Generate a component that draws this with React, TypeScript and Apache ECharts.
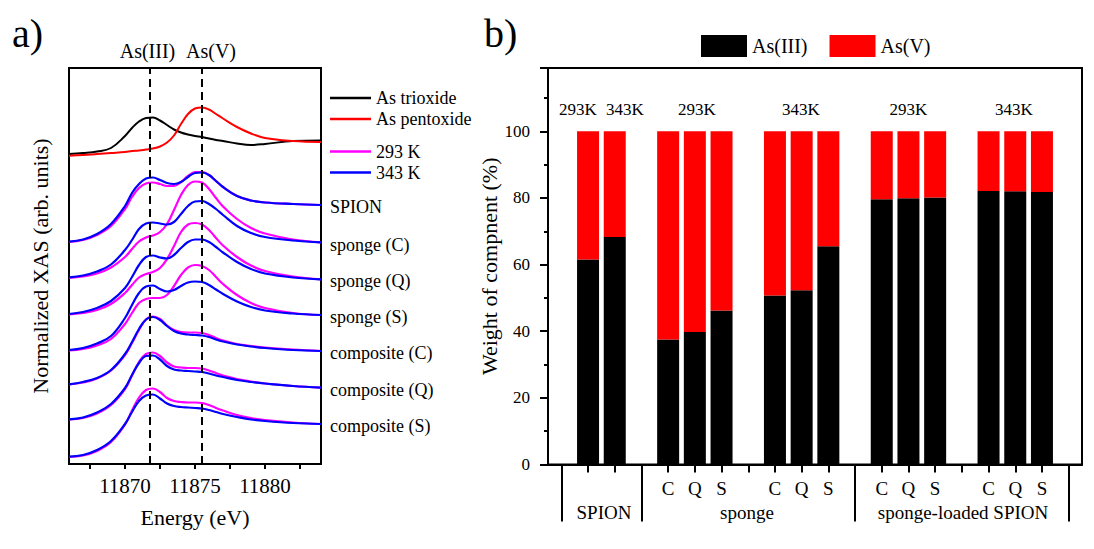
import React, { useEffect, useRef } from 'react';
import * as echarts from 'echarts';

// ---------- Panel a: XAS spectra ----------
const energy = [11866, 11867, 11868, 11869, 11870, 11870.5, 11871, 11871.5, 11872, 11872.5, 11873, 11873.5, 11874, 11874.5, 11875, 11875.5, 11876, 11876.5, 11877, 11878, 11879, 11880, 11882, 11884];

const asTrioxide = [3.10, 3.11, 3.125, 3.16, 3.28, 3.36, 3.425, 3.46, 3.465, 3.435, 3.39, 3.345, 3.315, 3.295, 3.28, 3.27, 3.255, 3.24, 3.23, 3.205, 3.19, 3.20, 3.23, 3.235];
const asPentoxide = [3.083, 3.09, 3.10, 3.11, 3.12, 3.13, 3.135, 3.145, 3.155, 3.175, 3.215, 3.285, 3.40, 3.50, 3.555, 3.565, 3.545, 3.50, 3.455, 3.37, 3.305, 3.26, 3.23, 3.22];

const spion293 = [2.22, 2.24, 2.29, 2.38, 2.55, 2.67, 2.76, 2.805, 2.815, 2.80, 2.78, 2.78, 2.82, 2.88, 2.92, 2.92, 2.89, 2.83, 2.77, 2.68, 2.635, 2.615, 2.60, 2.59];
const spion343 = [2.223, 2.245, 2.30, 2.40, 2.58, 2.71, 2.80, 2.855, 2.865, 2.84, 2.81, 2.80, 2.82, 2.87, 2.91, 2.915, 2.89, 2.83, 2.77, 2.68, 2.635, 2.615, 2.60, 2.59];
const spongeC293 = [1.86, 1.875, 1.905, 1.965, 2.07, 2.15, 2.225, 2.265, 2.285, 2.32, 2.40, 2.54, 2.69, 2.79, 2.825, 2.815, 2.75, 2.66, 2.575, 2.45, 2.36, 2.305, 2.245, 2.217];
const spongeC343 = [1.867, 1.885, 1.925, 1.995, 2.14, 2.24, 2.35, 2.405, 2.415, 2.405, 2.395, 2.42, 2.50, 2.58, 2.625, 2.63, 2.60, 2.55, 2.49, 2.38, 2.31, 2.27, 2.235, 2.217];
const spongeQ293 = [1.495, 1.51, 1.54, 1.60, 1.71, 1.79, 1.865, 1.90, 1.92, 1.96, 2.05, 2.18, 2.32, 2.395, 2.41, 2.395, 2.34, 2.26, 2.185, 2.07, 1.985, 1.93, 1.875, 1.847];
const spongeQ343 = [1.50, 1.52, 1.56, 1.63, 1.76, 1.87, 1.99, 2.07, 2.085, 2.065, 2.055, 2.09, 2.16, 2.22, 2.245, 2.245, 2.22, 2.17, 2.115, 2.02, 1.95, 1.905, 1.865, 1.847];
const spongeS293 = [1.135, 1.15, 1.185, 1.25, 1.40, 1.51, 1.61, 1.65, 1.66, 1.66, 1.69, 1.78, 1.89, 1.965, 1.99, 1.98, 1.94, 1.87, 1.80, 1.69, 1.61, 1.56, 1.51, 1.49];
const spongeS343 = [1.14, 1.16, 1.205, 1.28, 1.46, 1.59, 1.71, 1.775, 1.785, 1.75, 1.725, 1.74, 1.78, 1.815, 1.825, 1.82, 1.79, 1.745, 1.70, 1.625, 1.57, 1.535, 1.505, 1.49];
const compC293 = [0.795, 0.815, 0.855, 0.935, 1.09, 1.21, 1.34, 1.445, 1.475, 1.45, 1.385, 1.34, 1.32, 1.315, 1.315, 1.31, 1.29, 1.26, 1.235, 1.20, 1.18, 1.165, 1.145, 1.13];
const compC343 = [0.797, 0.82, 0.86, 0.94, 1.10, 1.22, 1.35, 1.445, 1.47, 1.44, 1.38, 1.33, 1.305, 1.295, 1.29, 1.285, 1.27, 1.245, 1.225, 1.195, 1.175, 1.16, 1.14, 1.13];
const compQ293 = [0.445, 0.46, 0.505, 0.59, 0.75, 0.885, 1.02, 1.10, 1.115, 1.08, 1.015, 0.975, 0.965, 0.96, 0.96, 0.955, 0.935, 0.91, 0.885, 0.85, 0.825, 0.805, 0.78, 0.763];
const compQ343 = [0.447, 0.465, 0.515, 0.60, 0.76, 0.89, 1.01, 1.08, 1.085, 1.045, 0.98, 0.945, 0.935, 0.93, 0.925, 0.92, 0.905, 0.885, 0.87, 0.84, 0.82, 0.805, 0.78, 0.763];
const compS293 = [0.07, 0.085, 0.13, 0.22, 0.395, 0.535, 0.665, 0.74, 0.755, 0.72, 0.66, 0.63, 0.62, 0.615, 0.615, 0.61, 0.59, 0.56, 0.535, 0.49, 0.46, 0.44, 0.415, 0.40];
const compS343 = [0.073, 0.09, 0.14, 0.23, 0.40, 0.52, 0.63, 0.685, 0.695, 0.655, 0.605, 0.58, 0.57, 0.565, 0.56, 0.555, 0.54, 0.52, 0.50, 0.47, 0.445, 0.43, 0.41, 0.40];

const sampleNames = ['SPION', 'sponge (C)', 'sponge (Q)', 'sponge (S)', 'composite (C)', 'composite (Q)', 'composite (S)'];
const samples293 = [spion293, spongeC293, spongeQ293, spongeS293, compC293, compQ293, compS293];
const samples343 = [spion343, spongeC343, spongeQ343, spongeS343, compC343, compQ343, compS343];
const refLines = [11871.74, 11875.48];
const refLineNames = ['As(III)', 'As(V)'];
const energyTicks = [11867.5, 11870, 11872.5, 11875, 11877.5, 11880, 11882.5];
const energyLabels = [11870, 11875, 11880];

// ---------- Panel b: weights ----------
const barCats = ['sep0', 'SPION 293K', 'SPION 343K', 'sep1', 'sponge 293K C', 'sponge 293K Q', 'sponge 293K S', 'gap1', 'sponge 343K C', 'sponge 343K Q', 'sponge 343K S', 'sep2', 'loaded 293K C', 'loaded 293K Q', 'loaded 293K S', 'gap2', 'loaded 343K C', 'loaded 343K Q', 'loaded 343K S', 'sep3'];
const barTickLabels = ['', '', '', '', 'C', 'Q', 'S', '', 'C', 'Q', 'S', '', 'C', 'Q', 'S', '', 'C', 'Q', 'S', ''];
const separatorIdx = [0, 3, 11, 19];
const asIII = [null, 61.5, 68.3, null, 37.5, 39.8, 46.2, null, 50.7, 52.3, 65.5, null, 79.6, 79.9, 80.1, null, 82.1, 82.0, 81.8, null];
const asV = [null, 38.5, 31.7, null, 62.5, 60.2, 53.8, null, 49.3, 47.7, 34.5, null, 20.4, 20.1, 19.9, null, 17.9, 18.0, 18.2, null];
const tempLabels = ['293K', '343K', '293K', '343K', '293K', '343K'];
const groupLabels = ['SPION', 'sponge', 'sponge-loaded SPION'];

const FONT = 'Liberation Serif';

function pairs(arr: number[]) {
  return energy.map((e, i) => [e, arr[i]]);
}

function buildOption() {
  const lineSeries: any[] = [];
  lineSeries.push({
    name: 'As trioxide', type: 'line', xAxisIndex: 0, yAxisIndex: 0, data: pairs(asTrioxide),
    smooth: 0.4, symbol: 'none', lineStyle: { color: '#000000', width: 2 }, itemStyle: { color: '#000000' },
    markLine: {
      silent: true, symbol: 'none', label: { show: false },
      lineStyle: { color: '#000000', width: 2, type: [8, 5] },
      data: refLines.map((v) => ({ xAxis: v })),
      z: 10,
    },
  });
  lineSeries.push({
    name: 'As pentoxide', type: 'line', xAxisIndex: 0, yAxisIndex: 0, data: pairs(asPentoxide),
    smooth: 0.4, symbol: 'none', lineStyle: { color: '#ff0000', width: 2 }, itemStyle: { color: '#ff0000' },
  });
  for (let i = 0; i < sampleNames.length; i++) {
    lineSeries.push({
      name: '293 K', type: 'line', xAxisIndex: 0, yAxisIndex: 0, data: pairs(samples293[i]),
      smooth: 0.4, symbol: 'none', lineStyle: { color: '#ff00ff', width: 2.2 }, itemStyle: { color: '#ff00ff' },
    });
    lineSeries.push({
      name: '343 K', type: 'line', xAxisIndex: 0, yAxisIndex: 0, data: pairs(samples343[i]),
      smooth: 0.4, symbol: 'none', lineStyle: { color: '#0000ff', width: 2.2 }, itemStyle: { color: '#0000ff' },
    });
  }

  const sampleLabelY = [206.5, 244.5, 281, 317, 352.5, 389.5, 425.5];
  const tempX = [578, 625, 697, 801, 908.5, 1014];
  const groupX = [604, 747, 963];

  const graphicEls: any[] = [];
  graphicEls.push({ type: 'text', x: 12, y: 33.5, silent: true, style: { text: 'a)', fontSize: 40, fontFamily: FONT, fill: '#000', align: 'left', verticalAlign: 'middle' } });
  graphicEls.push({ type: 'text', x: 484, y: 33.5, silent: true, style: { text: 'b)', fontSize: 40, fontFamily: FONT, fill: '#000', align: 'left', verticalAlign: 'middle' } });
  const refLabelX = [147.5, 211];
  refLineNames.forEach((t, i) => {
    graphicEls.push({ type: 'text', x: refLabelX[i], y: 50.5, silent: true, style: { text: t, fontSize: 20, fontFamily: FONT, fill: '#000', align: 'center', verticalAlign: 'middle' } });
  });
  sampleNames.forEach((t, i) => {
    graphicEls.push({ type: 'text', x: 330, y: sampleLabelY[i], silent: true, style: { text: t, fontSize: 18, fontFamily: FONT, fill: '#000', align: 'left', verticalAlign: 'middle' } });
  });
  tempLabels.forEach((t, i) => {
    graphicEls.push({ type: 'text', x: tempX[i], y: 109, silent: true, style: { text: t, fontSize: 17, fontFamily: FONT, fill: '#000', align: 'center', verticalAlign: 'middle' } });
  });
  groupLabels.forEach((t, i) => {
    graphicEls.push({ type: 'text', x: groupX[i], y: 512, silent: true, style: { text: t, fontSize: 19, fontFamily: FONT, fill: '#000', align: 'center', verticalAlign: 'middle' } });
  });

  const axisLine = { show: true, lineStyle: { color: '#000', width: 2 } };
  const legendLineText = { fontSize: 18, lineHeight: 18, fontFamily: FONT, color: '#000' };

  return {
    animation: false,
    backgroundColor: '#ffffff',
    textStyle: { fontFamily: FONT, color: '#000' },
    grid: [
      { left: 69, top: 68, width: 252, height: 396, show: true, borderColor: '#000', borderWidth: 2, backgroundColor: 'transparent' },
      { left: 548, top: 68, width: 534, height: 396.5, show: true, borderColor: '#000', borderWidth: 2, backgroundColor: 'transparent' },
    ],
    legend: [
      {
        data: ['As trioxide', 'As pentoxide'], orient: 'vertical', left: 330, top: 89, padding: 0,
        icon: 'rect', itemWidth: 41, itemHeight: 2.5, itemGap: 3, selectedMode: false,
        textStyle: legendLineText,
      },
      {
        data: ['293 K', '343 K'], orient: 'vertical', left: 330, top: 142.5, padding: 0,
        icon: 'rect', itemWidth: 41, itemHeight: 2.5, itemGap: 3, selectedMode: false,
        textStyle: legendLineText,
      },
      {
        data: ['As(III)', 'As(V)'], orient: 'horizontal', left: 701, top: 35, padding: 0,
        itemWidth: 46, itemHeight: 22, itemGap: 22, icon: 'rect', selectedMode: false,
        textStyle: { fontSize: 20, fontFamily: FONT, color: '#000' },
      },
    ],
    xAxis: [
      {
        gridIndex: 0, type: 'value', min: 11866, max: 11884,
        axisLine,
        axisTick: { show: true, customValues: energyTicks, length: 5, lineStyle: { color: '#000', width: 2 } },
        axisLabel: { customValues: energyLabels, formatter: (v: number) => String(v), fontSize: 21, color: '#000', margin: 11, fontFamily: FONT },
        splitLine: { show: false },
        name: 'Energy (eV)', nameLocation: 'middle', nameGap: 42,
        nameTextStyle: { fontSize: 22, color: '#000', fontFamily: FONT },
      },
      {
        gridIndex: 1, type: 'category', data: barCats, position: 'bottom',
        axisLine,
        axisTick: { show: true, alignWithLabel: true, interval: 0, length: 8, lineStyle: { color: '#000', width: 2 } },
        axisLabel: { interval: 0, formatter: (_v: string, i: number) => barTickLabels[i], fontSize: 19, color: '#000', margin: 14, fontFamily: FONT },
        splitLine: { show: false },
      },
      {
        gridIndex: 1, type: 'category', data: barCats, position: 'bottom',
        axisLine: { show: false },
        axisTick: { show: true, alignWithLabel: true, length: 57, interval: (i: number) => separatorIdx.indexOf(i) >= 0, lineStyle: { color: '#000', width: 2 } },
        axisLabel: { show: false },
        splitLine: { show: false },
      },
    ],
    yAxis: [
      {
        gridIndex: 0, type: 'value', min: 0, max: 3.96,
        axisLine, axisTick: { show: false }, axisLabel: { show: false }, splitLine: { show: false },
        name: 'Normalized XAS (arb. units)', nameLocation: 'middle', nameGap: 18,
        nameTextStyle: { fontSize: 22, color: '#000', fontFamily: FONT },
      },
      {
        gridIndex: 1, type: 'value', min: 0, max: 119, interval: 20,
        axisLine,
        axisTick: { show: true, length: 8, lineStyle: { color: '#000', width: 2 } },
        minorTick: { show: true, splitNumber: 2, length: 4, lineStyle: { color: '#000', width: 2 } },
        axisLabel: { fontSize: 17, color: '#000', margin: 18, showMaxLabel: false, fontFamily: FONT },
        splitLine: { show: false }, minorSplitLine: { show: false },
        name: 'Weight of compnent (%)', nameLocation: 'middle', nameGap: 47,
        nameTextStyle: { fontSize: 22, color: '#000', fontFamily: FONT },
      },
    ],
    series: [
      ...lineSeries,
      {
        name: 'As(III)', type: 'bar', xAxisIndex: 1, yAxisIndex: 1, stack: 'weight', data: asIII,
        barWidth: 22, itemStyle: { color: '#000000' },
      },
      {
        name: 'As(V)', type: 'bar', xAxisIndex: 1, yAxisIndex: 1, stack: 'weight', data: asV,
        barWidth: 22, itemStyle: { color: '#ff0000' },
      },
    ],
    graphic: { elements: graphicEls },
  };
}

export default function App() {
  const ref = useRef<HTMLDivElement>(null);
  useEffect(() => {
    if (!ref.current) return;
    const chart = echarts.init(ref.current, null, { renderer: 'svg' });
    chart.setOption(buildOption() as any);
    return () => {
      chart.dispose();
    };
  }, []);
  return (
    <div
      ref={ref}
      style={{ position: 'fixed', left: 0, top: 0, width: '1094px', height: '549px', background: '#ffffff' }}
    />
  );
}
